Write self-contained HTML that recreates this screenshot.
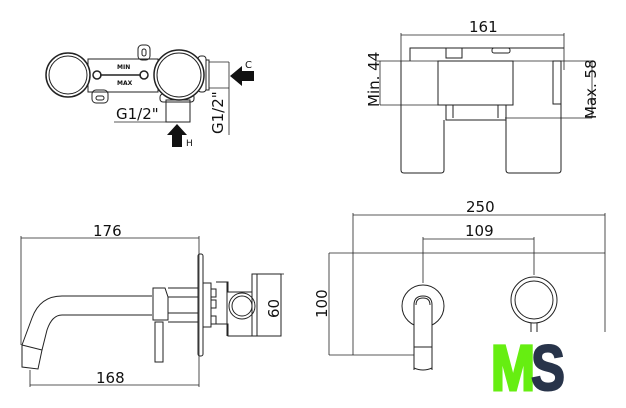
<!DOCTYPE html>
<html><head><meta charset="utf-8"><style>
html,body{margin:0;padding:0;background:#fff;width:626px;height:408px;overflow:hidden}
svg{display:block}
text{font-family:"DejaVu Sans","Liberation Sans",sans-serif;fill:#111}
</style></head><body>
<svg width="626" height="408" viewBox="0 0 626 408" xmlns="http://www.w3.org/2000/svg">
<g fill="none" stroke="#222" stroke-width="1">
<rect x="88" y="59" width="70" height="33" fill="#fff"/>
<circle cx="68" cy="75" r="22" stroke-width="1.5" fill="#fff"/>
<circle cx="68" cy="75" r="19"/>
<rect x="138" y="45" width="12" height="15" rx="4"/>
<rect x="142" y="49" width="4" height="7" rx="2"/>
<rect x="92" y="90" width="16" height="13" rx="4"/>
<rect x="96" y="96" width="8" height="4" rx="2"/>
<line x1="100" y1="75" x2="141" y2="75" stroke-width="1.5"/>
<circle cx="97" cy="75" r="4" stroke-width="1.5"/>
<circle cx="144" cy="75" r="4" stroke-width="1.5"/>
<rect x="160" y="94" width="34" height="8" rx="3"/>
<rect x="198" y="56" width="8" height="36" rx="3"/>
<circle cx="179" cy="75" r="25" stroke-width="1.5" fill="#fff"/>
<circle cx="179" cy="75" r="22"/>
<rect x="166" y="100" width="24" height="22"/>
<rect x="206" y="60" width="3" height="30"/>
<line x1="209" y1="62" x2="229" y2="62" stroke-width="0.8"/>
<line x1="209" y1="88" x2="229" y2="88" stroke-width="0.8"/>
<line x1="229" y1="62" x2="229" y2="135" stroke-width="0.8"/>
<line x1="114" y1="122" x2="190" y2="122" stroke-width="0.8"/>
</g>
<polygon points="230,76 242,66 242,71 254,71 254,81 242,81 242,86" fill="#111"/>
<polygon points="177,124 187,135 182,135 182,147 172,147 172,135 167,135" fill="#111"/>
<text x="245" y="68" font-size="10">C</text>
<text x="186" y="146" font-size="9">H</text>
<text x="116" y="119" font-size="15">G1/2"</text>
<text transform="translate(223,134) rotate(-90)" font-size="15">G1/2"</text>
<text x="117" y="69" font-size="6" font-weight="bold">MIN</text>
<text x="117" y="85" font-size="6" font-weight="bold">MAX</text>

<g fill="none" stroke="#222" stroke-width="1">
<line x1="401" y1="35" x2="564" y2="35" stroke-width="0.8"/>
<line x1="401" y1="33" x2="401" y2="61" stroke-width="0.8"/>
<line x1="564" y1="33" x2="564" y2="70" stroke-width="0.8"/>
<polyline points="410,61 410,48 564,48"/>
<rect x="446" y="48" width="16" height="10"/>
<rect x="492" y="48" width="18" height="5" rx="2"/>
<line x1="375" y1="61" x2="592" y2="61" stroke-width="0.8"/>
<rect x="438" y="61" width="75" height="44"/>
<rect x="553" y="61" width="8" height="43"/>
<line x1="380" y1="105" x2="438" y2="105" stroke-width="0.8"/>
<line x1="380" y1="61" x2="380" y2="105" stroke-width="0.8"/>
<line x1="592" y1="61" x2="592" y2="118" stroke-width="0.8"/>
<line x1="505" y1="118" x2="592" y2="118" stroke-width="0.8"/>
<rect x="446" y="105" width="60" height="15"/>
<line x1="453" y1="105" x2="453" y2="118"/><line x1="498" y1="105" x2="498" y2="118"/>
<path d="M401,61 V170 Q401,173 404,173 H441 Q444,173 444,170 V120"/>
<path d="M506,120 V170 Q506,173 509,173 H558 Q561,173 561,170 V104"/>
</g>
<text x="469" y="32" font-size="15">161</text>
<text transform="translate(379,107) rotate(-90)" font-size="15">Min. 44</text>
<text transform="translate(596,119) rotate(-90)" font-size="15">Max. 58</text>

<g fill="none" stroke="#222" stroke-width="1">
<line x1="21" y1="238" x2="199" y2="238" stroke-width="0.8"/>
<line x1="21" y1="236" x2="21" y2="345" stroke-width="0.8"/>
<line x1="199" y1="236" x2="199" y2="387" stroke-width="0.8"/>
<line x1="30" y1="385" x2="199" y2="385" stroke-width="0.8"/>
<line x1="30" y1="370" x2="30" y2="387" stroke-width="0.8"/>
<path d="M152,296 H62 Q40,296 32,318 L22,345"/>
<path d="M152,315 H62 Q52,315 47,330 L42,350"/>
<path d="M22,345 L42,350 L38,369 L22,367 Z"/>
<path d="M153,288 H165 L168,297 V320 H153 Z"/>
<rect x="155" y="322" width="8" height="40"/>
<line x1="168" y1="288" x2="198" y2="288"/><line x1="168" y1="322" x2="198" y2="322"/>
<line x1="168" y1="297" x2="198" y2="297"/><line x1="168" y1="313" x2="198" y2="313"/>
<rect x="198" y="254" width="5" height="102" rx="2"/>
<rect x="203" y="283" width="8" height="44"/>
<rect x="211" y="289" width="5" height="8"/><rect x="211" y="300" width="5" height="8"/><rect x="211" y="316" width="5" height="8"/>
<path d="M216,282 H228 V292 H252"/><path d="M216,324 H228 V336 H252"/>
<line x1="227" y1="282" x2="227" y2="336"/>
<circle cx="242" cy="306" r="13"/><circle cx="242" cy="306" r="10"/>
<rect x="252" y="274" width="29" height="62"/>
<line x1="257" y1="274" x2="257" y2="336"/>
<line x1="281" y1="274" x2="284" y2="274" stroke-width="0.8"/>
</g>
<text x="93" y="236" font-size="15">176</text>
<text x="96" y="383" font-size="15">168</text>
<text transform="translate(279,318) rotate(-90)" font-size="15">60</text>

<g fill="none" stroke="#222" stroke-width="1">
<line x1="353" y1="215" x2="605" y2="215" stroke-width="0.8"/>
<line x1="353" y1="213" x2="353" y2="355" stroke-width="0.8"/>
<line x1="605" y1="213" x2="605" y2="332" stroke-width="0.8"/>
<line x1="423" y1="239" x2="534" y2="239" stroke-width="0.8"/>
<line x1="423" y1="237" x2="423" y2="283" stroke-width="0.8"/>
<line x1="534" y1="237" x2="534" y2="275" stroke-width="0.8"/>
<line x1="329" y1="253" x2="605" y2="253" stroke-width="0.8"/>
<line x1="329" y1="355" x2="414" y2="355" stroke-width="0.8"/>
<line x1="329" y1="253" x2="329" y2="355" stroke-width="0.8"/>
<circle cx="423" cy="306" r="21"/>
<path d="M414,370 V305 Q414,296 423,296 Q432,296 432,305 V370" fill="#fff"/>
<path d="M416,305 Q416,298 423,298 Q430,298 430,305"/>
<line x1="414" y1="347" x2="432" y2="347"/>
<path d="M414,368 Q423,372 432,368"/>
<circle cx="534" cy="300" r="23"/><circle cx="534" cy="300" r="19"/>
<line x1="531" y1="323" x2="531" y2="332"/><line x1="537" y1="323" x2="537" y2="332"/>
</g>
<text x="466" y="212" font-size="15">250</text>
<text x="465" y="236" font-size="15">109</text>
<text transform="translate(327,318) rotate(-90)" font-size="15">100</text>
<text x="491" y="390" font-size="64" font-weight="bold" style="fill:#66ee11;stroke:#66ee11;stroke-width:3;font-family:'Liberation Sans',sans-serif" textLength="44" lengthAdjust="spacingAndGlyphs">M</text>
<text x="531" y="390" font-size="64" font-weight="bold" style="fill:#28344a;stroke:#28344a;stroke-width:2;font-family:'Liberation Sans',sans-serif" textLength="34" lengthAdjust="spacingAndGlyphs">S</text>
</svg>
</body></html>
